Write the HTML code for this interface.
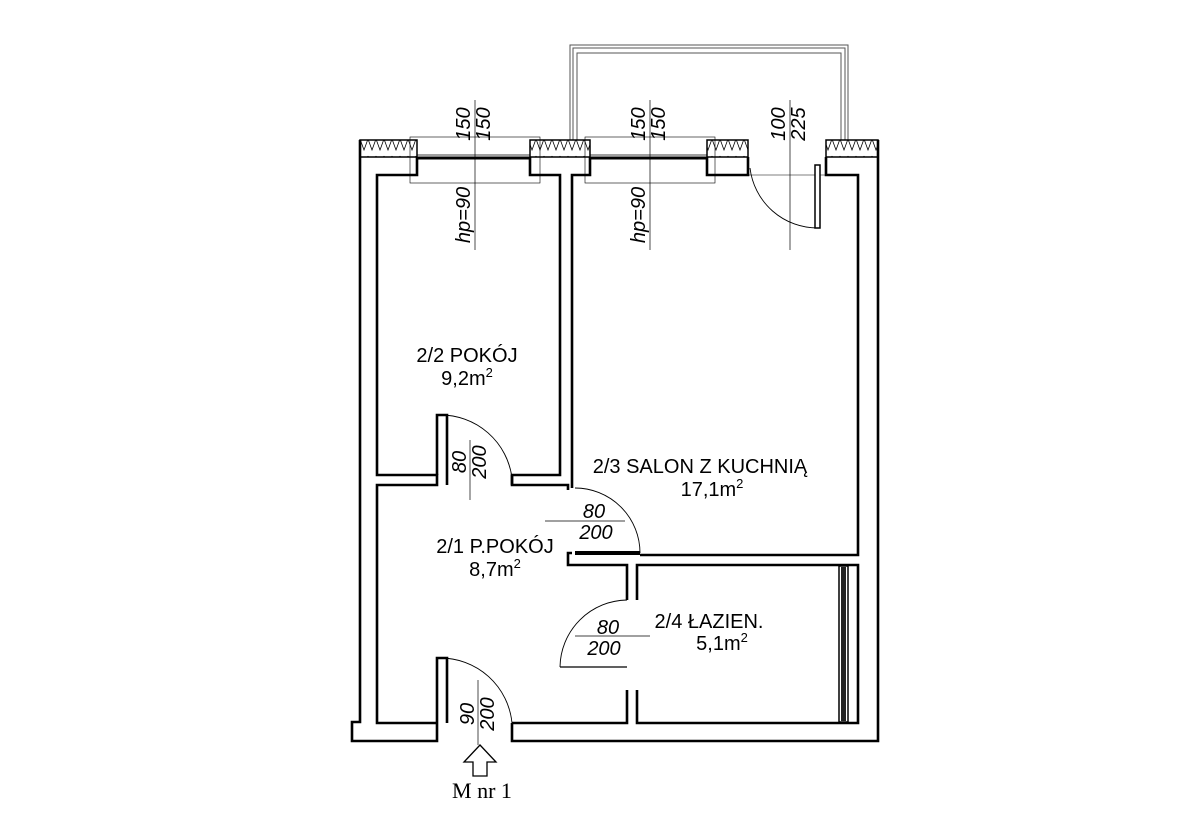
<!DOCTYPE html>
<html><head><meta charset="utf-8"><style>html,body{margin:0;padding:0;background:#fff}svg{display:block}</style></head>
<body>
<svg width="1192" height="821" viewBox="0 0 1192 821" xmlns="http://www.w3.org/2000/svg" font-family="Liberation Sans, sans-serif">
<defs>
<pattern id="ins" width="8" height="17" patternUnits="userSpaceOnUse">
<path d="M0,3 L4,14 L8,3" fill="none" stroke="#000" stroke-width="0.8"/>
</pattern>
</defs>
<g fill="none" stroke="#555" stroke-width="1">
<path d="M570,140 V45 H848 V140"/>
<path d="M573,140 V48 H845 V140"/>
<path d="M577,140 V53 H841 V140"/>
</g>
<g stroke="#000" stroke-width="1.5">
<rect x="360" y="140" width="57" height="17" fill="url(#ins)"/>
<rect x="530" y="140" width="60" height="17" fill="url(#ins)"/>
<rect x="707" y="140" width="41" height="17" fill="url(#ins)"/>
<rect x="826" y="140" width="52" height="17" fill="url(#ins)"/>
</g>
<g fill="none" stroke="#000">
<rect x="410" y="137" width="130" height="46" stroke-width="0.6"/>
<rect x="585" y="137" width="130" height="46" stroke-width="0.6"/>
<line x1="417" y1="158" x2="530" y2="158" stroke-width="3"/>
<line x1="590" y1="158" x2="707" y2="158" stroke-width="3"/>
<line x1="417" y1="155" x2="530" y2="155" stroke-width="0.8"/>
<line x1="590" y1="155" x2="707" y2="155" stroke-width="0.8"/>
<line x1="748" y1="175" x2="826" y2="175" stroke-width="0.6"/>
</g>
<g fill="none" stroke="#000" stroke-width="2.6" stroke-linejoin="miter">
<path d="M360,140 V722 H352 V741 H437 V723"/>
<path d="M878,140 V741 H512 V723"/>
<path d="M417,157 V175 H377 V475 H437 V485 H377 V723 H437"/>
<path d="M530,157 V175 H560 V475 H512 V485 H568 V490"/>
<path d="M590,157 V175 H572 V488"/>
<path d="M707,157 V175 H748 V157"/>
<path d="M826,157 V175 H858 V555 H640"/>
<path d="M572,553 H568 V565 H627 V600"/>
<path d="M627,690 V723 H512"/>
<path d="M637,600 V565 H858 V723 H637 V690"/>
<path d="M437,475 V415 H447 V485"/>
<path d="M437,723 V658 H447 V723"/>
<path d="M512,485 V475"/>
</g>
<rect x="839" y="566" width="9" height="156" fill="#fff" stroke="#000" stroke-width="1.5"/>
<rect x="841" y="567" width="5" height="154" fill="#222"/>
<g fill="none" stroke="#000">
<path d="M440,415 A72,72 0 0 1 512,478" stroke-width="0.9"/>
<path d="M575,488 A65,65 0 0 1 640,553" stroke-width="0.9"/>
<line x1="575" y1="553" x2="640" y2="553" stroke-width="4"/>
<path d="M627,600 A68,68 0 0 0 560,667" stroke-width="0.9"/>
<line x1="560" y1="667" x2="627" y2="667" stroke-width="1.2"/>
<path d="M440,658 A72,72 0 0 1 512,723" stroke-width="0.9"/>
<path d="M750,168 A68,68 0 0 0 818,228" stroke-width="0.9"/>
<rect x="815" y="165" width="5" height="63" stroke-width="1.5" fill="#fff"/>
</g>
<g stroke="#000" stroke-width="0.7">
<line x1="475" y1="100" x2="475" y2="250"/>
<line x1="650" y1="100" x2="650" y2="250"/>
<line x1="790" y1="100" x2="790" y2="250"/>
<line x1="470" y1="440" x2="470" y2="500"/>
<line x1="545" y1="521" x2="625" y2="521"/>
<line x1="575" y1="636" x2="650" y2="636"/>
<line x1="478" y1="680" x2="478" y2="745"/>
</g>
<g font-size="20" font-style="italic" fill="#000">
<text transform="translate(470,124) rotate(-90)" text-anchor="middle">150</text>
<text transform="translate(490,124) rotate(-90)" text-anchor="middle">150</text>
<text transform="translate(645,124) rotate(-90)" text-anchor="middle">150</text>
<text transform="translate(665,124) rotate(-90)" text-anchor="middle">150</text>
<text transform="translate(785,124) rotate(-90)" text-anchor="middle">100</text>
<text transform="translate(805,124) rotate(-90)" text-anchor="middle">225</text>
<text transform="translate(470,215) rotate(-90)" text-anchor="middle">hp=90</text>
<text transform="translate(645,215) rotate(-90)" text-anchor="middle">hp=90</text>
<text transform="translate(466,462) rotate(-90)" text-anchor="middle">80</text>
<text transform="translate(486,462) rotate(-90)" text-anchor="middle">200</text>
<text transform="translate(474,714) rotate(-90)" text-anchor="middle">90</text>
<text transform="translate(494,714) rotate(-90)" text-anchor="middle">200</text>
<text x="594" y="518" text-anchor="middle">80</text>
<text x="596" y="539" text-anchor="middle">200</text>
<text x="608" y="634" text-anchor="middle">80</text>
<text x="604" y="655" text-anchor="middle">200</text>
</g>
<g font-size="20" fill="#000" text-anchor="middle">
<text x="467" y="362">2/2 POKÓJ</text>
<text x="467" y="385">9,2m<tspan font-size="13" dy="-8">2</tspan></text>
<text x="700" y="473">2/3 SALON Z KUCHNIĄ</text>
<text x="712" y="496">17,1m<tspan font-size="13" dy="-8">2</tspan></text>
<text x="495" y="553">2/1 P.POKÓJ</text>
<text x="495" y="576">8,7m<tspan font-size="13" dy="-8">2</tspan></text>
<text x="709" y="628">2/4 ŁAZIEN.</text>
<text x="722" y="650">5,1m<tspan font-size="13" dy="-8">2</tspan></text>
</g>
<path d="M480,745 L464,762 H473 V776 H487 V762 H496 Z" fill="#fff" stroke="#000" stroke-width="1.3"/>
<text x="482" y="798" font-family="Liberation Serif, serif" font-size="22" text-anchor="middle">M nr 1</text>
</svg>
</body></html>
